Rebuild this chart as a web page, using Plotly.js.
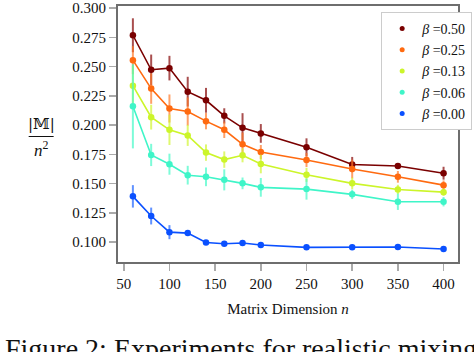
<!DOCTYPE html>
<html>
<head>
<meta charset="utf-8">
<script src="https://cdn.plot.ly/plotly-3.0.1.min.js"></script>
<style>html,body{margin:0;padding:0;background:#fff;}#chart{width:474px;height:352px;}</style>
</head>
<body>
<div id="chart"></div>
<script>
// ---- data ----
const matrixDim = [60, 80, 100, 120, 140, 160, 180, 200, 250, 300, 350, 400];
const betaLabels = ["0.50", "0.25", "0.13", "0.06", "0.00"];

const beta050 = [0.2768, 0.2473, 0.2487, 0.2286, 0.2212, 0.2079, 0.1977, 0.1929, 0.1810, 0.1663, 0.1651, 0.1589];
const beta050Err = [0.0145, 0.0130, 0.0105, 0.0127, 0.0106, 0.0065, 0.0125, 0.0080, 0.0077, 0.0065, 0.0020, 0.0055];

const beta025 = [0.2555, 0.2312, 0.2142, 0.2116, 0.2034, 0.1960, 0.1836, 0.1770, 0.1702, 0.1625, 0.1558, 0.1487];
const beta025Err = [0.0120, 0.0130, 0.0120, 0.0120, 0.0070, 0.0070, 0.0100, 0.0060, 0.0060, 0.0080, 0.0050, 0.0040];

const beta013 = [0.2337, 0.2068, 0.1960, 0.1912, 0.1765, 0.1705, 0.1742, 0.1668, 0.1575, 0.1502, 0.1450, 0.1427];
const beta013Err = [0.0170, 0.0106, 0.0130, 0.0090, 0.0070, 0.0070, 0.0060, 0.0080, 0.0060, 0.0050, 0.0040, 0.0030];

const beta006 = [0.2161, 0.1745, 0.1666, 0.1572, 0.1558, 0.1532, 0.1502, 0.1468, 0.1453, 0.1408, 0.1345, 0.1345];
const beta006Err = [0.0360, 0.0095, 0.0090, 0.0080, 0.0080, 0.0090, 0.0050, 0.0080, 0.0090, 0.0040, 0.0070, 0.0040];

const beta000 = [0.1391, 0.1223, 0.1085, 0.1077, 0.0997, 0.0986, 0.0992, 0.0975, 0.0955, 0.0955, 0.0958, 0.0941];
const beta000Err = [0.0096, 0.0072, 0.0060, 0.0010, 0.0010, 0.0010, 0.0010, 0.0010, 0.0010, 0.0010, 0.0010, 0.0010];

const yTickVals = [0.100, 0.125, 0.150, 0.175, 0.200, 0.225, 0.250, 0.275, 0.300];
const xTickVals = [50, 100, 150, 200, 250, 300, 350, 400];

// ---- styling ----
const seriesY = [beta050, beta025, beta013, beta006, beta000];
const seriesErr = [beta050Err, beta025Err, beta013Err, beta006Err, beta000Err];
const colors = ["#7a0000", "#ff6a10", "#ccf52a", "#3ff5c8", "#0a50ff"];
const errColors = ["rgba(140,20,20,0.75)", "rgba(255,120,40,0.7)", "rgba(210,245,50,0.7)", "rgba(70,250,200,0.7)", "rgba(30,100,255,0.7)"];
const FONT = "Liberation Serif, DejaVu Serif, serif";

const traces = [];
seriesY.forEach((ys, i) => {
  traces.push({
    x: matrixDim, y: ys, type: "scatter", mode: "lines+markers",
    line: {color: colors[i], width: 1.6},
    marker: {color: colors[i], size: 6.5},
    error_y: {type: "data", array: seriesErr[i], visible: true, color: errColors[i], thickness: 2, width: 0},
    name: "<i>β</i> =" + betaLabels[i],
    showlegend: false
  });
});
seriesY.forEach((ys, i) => {
  traces.push({
    x: [null], y: [null], type: "scatter", mode: "markers",
    marker: {color: colors[i], size: 5},
    name: "<i>β</i> =" + betaLabels[i],
    showlegend: true
  });
});

// plot area pixel geometry
const L = 118, R = 472, T = 6, B = 262;
const px = x => (x - L) / (R - L);
const py = y => (B - y) / (B - T);

const layout = {
  width: 474, height: 352,
  margin: {l: L, r: 474 - R, t: T, b: 352 - B, pad: 0},
  paper_bgcolor: "#fff", plot_bgcolor: "#fff",
  font: {family: FONT, size: 15, color: "#111"},
  showlegend: true,
  legend: {
    x: px(392), y: py(12), xanchor: "left", yanchor: "top",
    bgcolor: "#fff", bordercolor: "#cccccc", borderwidth: 1,
    font: {family: FONT, size: 14, color: "#111"},
    itemwidth: 30, tracegroupgap: 0
  },
  xaxis: {
    range: [43.7, 415.8], tickvals: xTickVals, ticktext: xTickVals.map(String),
    showgrid: false, zeroline: false,
    showline: true, linecolor: "#6e6e6e", linewidth: 2, mirror: true,
    ticks: "outside", ticklen: 7, tickcolor: "#aaa", tickwidth: 1.5,
    tickfont: {family: FONT, size: 15, color: "#111"},
    title: {text: "Matrix Dimension <i>n</i>", font: {family: FONT, size: 15, color: "#111"}, standoff: 12}
  },
  yaxis: {
    range: [0.083, 0.3018], tickvals: yTickVals, ticktext: yTickVals.map(v => v.toFixed(3)),
    showgrid: false, zeroline: false,
    showline: true, linecolor: "#6e6e6e", linewidth: 2, mirror: true,
    ticks: "outside", ticklen: 7, tickcolor: "#aaa", tickwidth: 1.5,
    tickfont: {family: FONT, size: 15, color: "#111"},
    ticklabeloverflow: "allow"
  },
  shapes: [
    {type: "line", xref: "paper", yref: "paper", x0: px(25), x1: px(51), y0: py(136.5), y1: py(136.5), line: {color: "#111", width: 1}}
  ],
  annotations: [
    {xref: "paper", yref: "paper", x: px(38), y: py(124), xanchor: "center", yanchor: "middle", showarrow: false,
     text: "|𝕄|", font: {family: "DejaVu Serif, serif", size: 15, color: "#111"}},
    {xref: "paper", yref: "paper", x: px(38), y: py(149), xanchor: "center", yanchor: "middle", showarrow: false,
     text: "<i>n</i><sup>2</sup>", font: {family: FONT, size: 17, color: "#111"}},
    {xref: "paper", yref: "paper", x: px(-2), y: py(331), xanchor: "left", yanchor: "top", showarrow: false,
     text: "Figure 2: Experiments for realistic mixing", font: {family: FONT, size: 28, color: "#111"}}
  ]
};

Plotly.newPlot("chart", traces, layout, {displayModeBar: false, staticPlot: true});
</script>
</body>
</html>
